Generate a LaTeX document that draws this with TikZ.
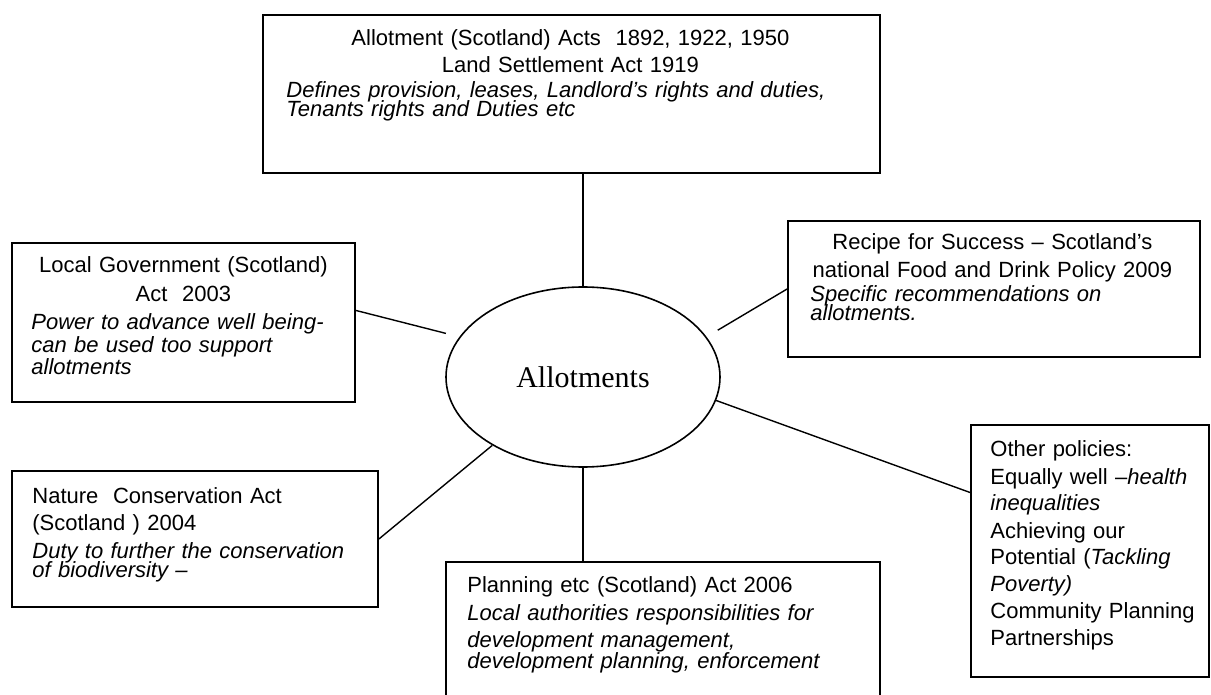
\documentclass[tikz,border=0pt]{standalone}
\usepackage{fontspec}
\setmainfont{Liberation Sans}
\newfontfamily\hubfont{Liberation Serif}
\usepackage{tikz}
\usetikzlibrary{shapes.geometric}
\setlength{\parindent}{0pt}
\setlength{\parskip}{0pt}

\tikzset{
  box/.style={draw, line width=0.9pt, rectangle, inner sep=0pt},
  txt/.style={inner sep=0pt, anchor=base west, align=left, font=\fontsize{11}{13.5}\selectfont},
  link/.style={line width=0.7pt}
}

\begin{document}
\begin{tikzpicture}[x=0.5pt, y=-0.5pt]
        \clip (0,0) rectangle (1211,695);

        \node[ellipse, draw, line width=0.8pt, minimum width=137pt, minimum height=90pt, inner sep=0pt,
              font=\hubfont\fontsize{15}{18}\selectfont] (hub) at (583,377) {Allotments};

        \node[box, minimum width=308.5pt, minimum height=79pt] (acts) at (571.5,94) {};
        \node[box, minimum width=171.5pt, minimum height=79.5pt] (localgov) at (183.5,322.5) {};
        \node[box, minimum width=206pt, minimum height=68pt] (recipe) at (994,289) {};
        \node[box, minimum width=183pt, minimum height=68pt] (nature) at (195,539) {};
        \node[box, minimum width=217pt, minimum height=74pt] (planning) at (663,636) {};
        \node[box, minimum width=119pt, minimum height=126pt] (other) at (1090,551) {};

        \node[txt, text width=284pt] (actstext) at (286,46) {%
          {\centering Allotment (Scotland) Acts\ \ 1892, 1922, 1950\\
          Land Settlement Act 1919\par}
          \vspace{-1pt}\itshape Defines provision, leases, Landlord's rights and duties,\\[-4pt]
          Tenants rights and Duties etc};
        \node[txt, text width=152pt] (localgovtext) at (31,273) {%
          {\centering Local Government (Scotland)\\[1pt]
          Act\ \ 2003\par}
          \vspace{0.5pt}\itshape Power to advance well being-\\[-2pt]
          can be used too support\\[-2.5pt]
          allotments};
        \node[txt, text width=182pt] (recipetext) at (810,250) {%
          {\centering Recipe for Success -- Scotland's\\[0.5pt]
          national Food and Drink Policy 2009\par}
          \vspace{-1.5pt}\itshape Specific recommendations on\\[-4pt]
          allotments.};
        \node[txt, text width=170pt] (naturetext) at (32,503) {%
          Nature\ \ Conservation Act\\
          (Scotland ) 2004\\[0.5pt]
          \itshape Duty to further the conservation\\[-4pt]
          of biodiversity --};
        \node[txt, text width=205pt] (planningtext) at (467,592) {%
          Planning etc (Scotland) Act 2006\\[0.5pt]
          \itshape Local authorities responsibilities for\\
          development management,\\[-3pt]
          development planning, enforcement};
        \node[txt, text width=108pt] (othertext) at (990,457) {%
          Other policies:\\
          Equally well --\textit{health}\\
          \textit{inequalities}\\
          Achieving our\\
          Potential (\textit{Tackling}\\
          \textit{Poverty)}\\
          Community Planning\\
          Partnerships};

        \draw[link] (hub.north) -- (hub.north |- acts.south);
        \draw[link] (hub.south) -- (hub.south |- planning.north);
        \draw[link, shorten >=7pt] (localgov.4) -- (hub.162);
        \draw[link, shorten >=6.5pt] (recipe.west) -- (hub.18);
        \draw[link] (nature.east) -- (hub.217);
        \draw[link] (hub.350) -- (other.154);
\end{tikzpicture}
\end{document}
